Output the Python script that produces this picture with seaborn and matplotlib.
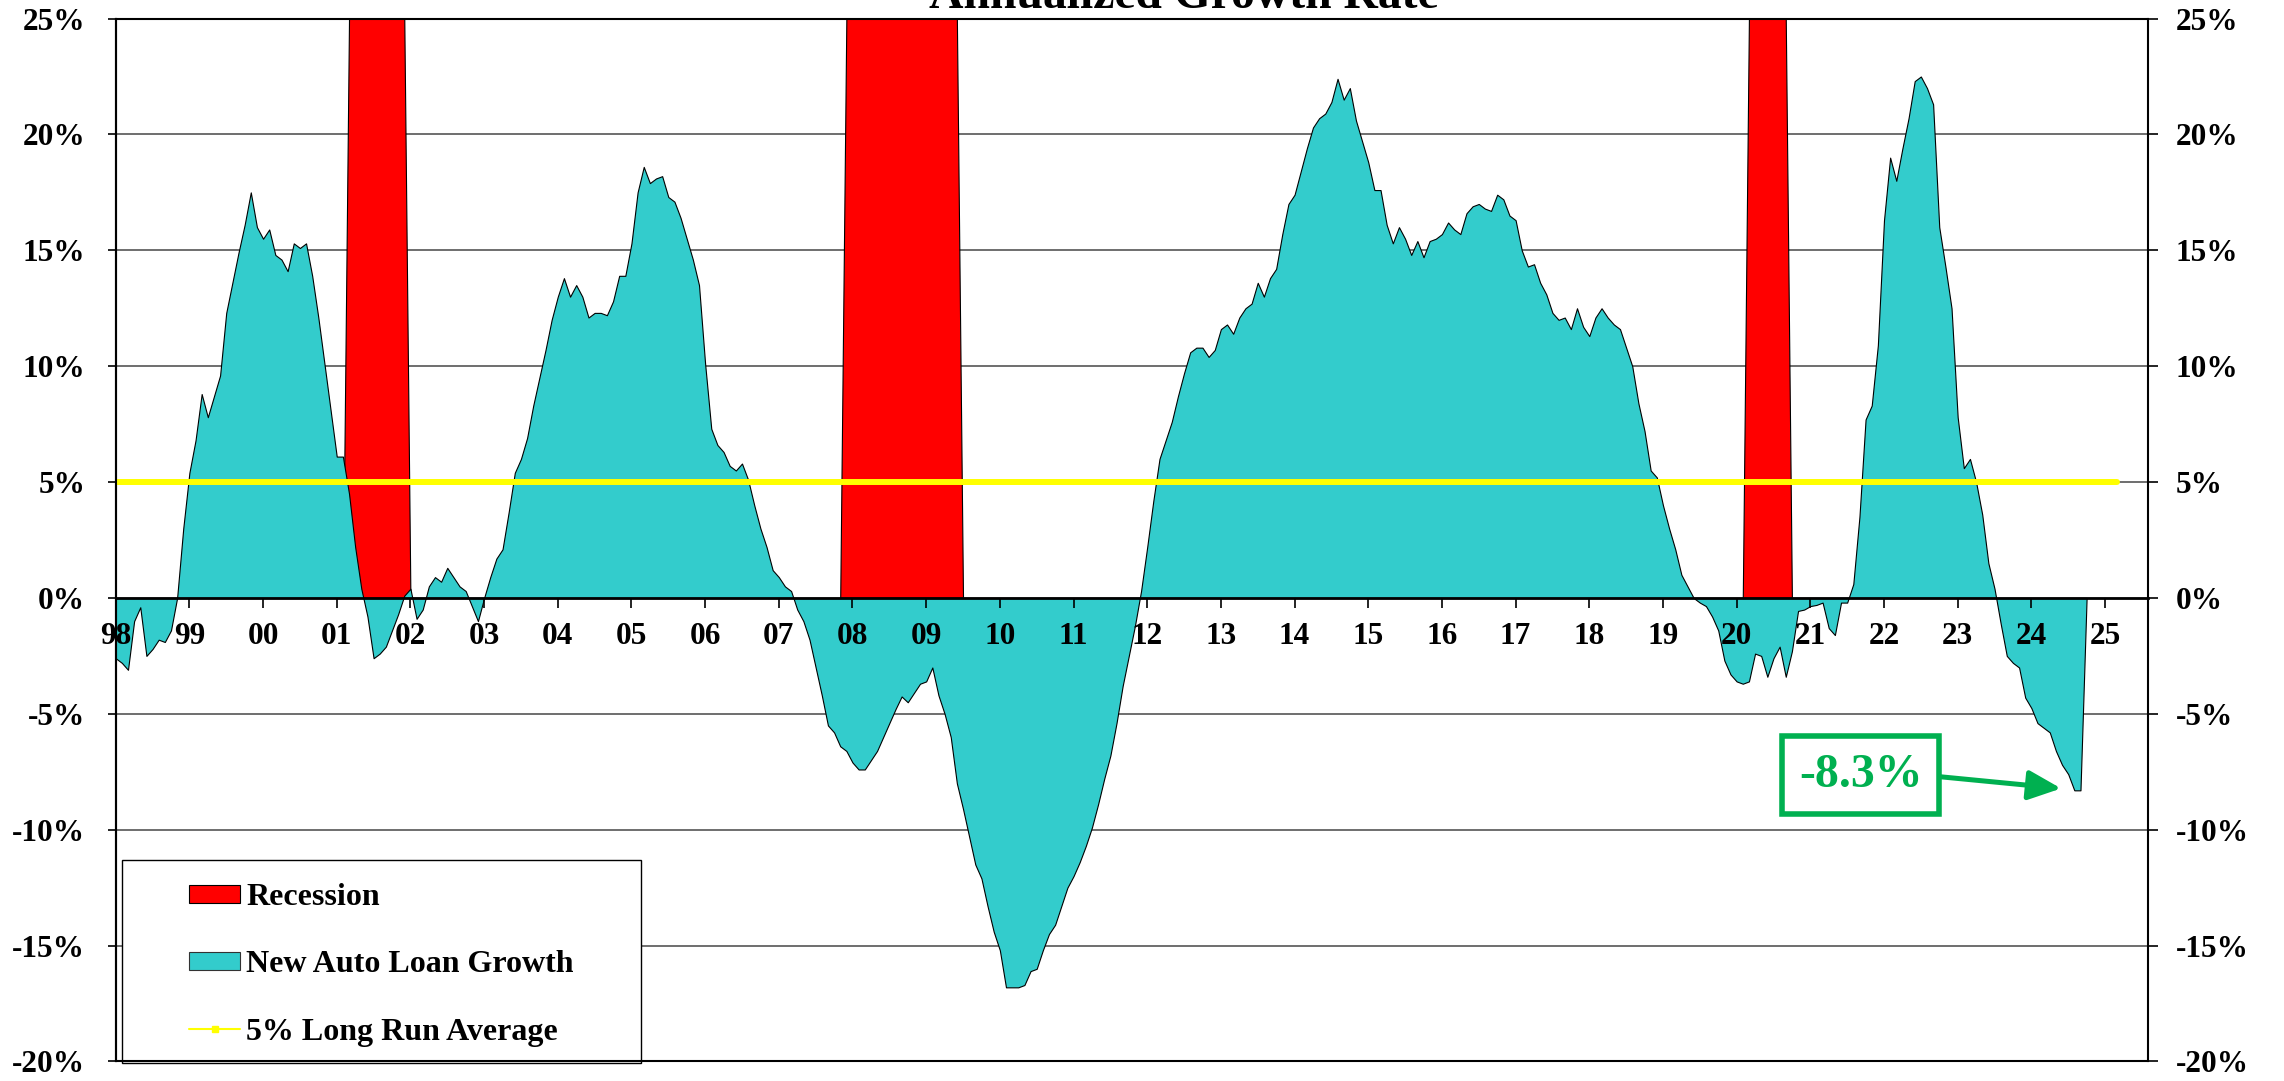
import numpy as np
import pandas as pd
import matplotlib.pyplot as plt
import seaborn as sns
from matplotlib.patches import Patch, Rectangle
from matplotlib.lines import Line2D
from matplotlib.ticker import FuncFormatter

# new auto loan growth, annualized %, monthly from Jan 1998
g1998 = [-2.6, -2.8, -3.1, -1.0, -0.4, -2.5, -2.2, -1.8, -1.9, -1.4, 0.0, 3.0]
g1999 = [5.4, 6.8, 8.8, 7.8, 8.7, 9.6, 12.3, 13.6, 14.9, 16.1, 17.5, 16.0]
g2000 = [15.5, 15.9, 14.8, 14.6, 14.1, 15.3, 15.1, 15.3, 13.9, 12.1, 10.1, 8.1]
g2001 = [6.1, 6.1, 4.5, 2.2, 0.4, -0.8, -2.6, -2.4, -2.1, -1.4, -0.7, 0.1]
g2002 = [0.4, -0.9, -0.5, 0.5, 0.9, 0.7, 1.3, 0.9, 0.5, 0.3, -0.35, -1.0]
g2003 = [0.0, 0.9, 1.7, 2.1, 3.7, 5.4, 6.0, 6.9, 8.3, 9.5, 10.7, 12.0]
g2004 = [13.0, 13.8, 13.0, 13.5, 13.0, 12.1, 12.3, 12.3, 12.2, 12.8, 13.9, 13.9]
g2005 = [15.3, 17.5, 18.6, 17.9, 18.1, 18.2, 17.3, 17.1, 16.4, 15.5, 14.6, 13.5]
g2006 = [10.1, 7.3, 6.6, 6.3, 5.7, 5.5, 5.8, 5.1, 4.0, 3.0, 2.2, 1.2]
g2007 = [0.9, 0.5, 0.3, -0.5, -1.0, -1.8, -3.0, -4.2, -5.5, -5.8, -6.4, -6.6]
g2008 = [-7.1, -7.4, -7.4, -7.0, -6.6, -6.0, -5.4, -4.8, -4.25, -4.5, -4.1, -3.7]
g2009 = [-3.6, -3.0, -4.2, -5.0, -6.0, -8.0, -9.1, -10.3, -11.5, -12.1, -13.3, -14.4]
g2010 = [-15.2, -16.8, -16.8, -16.8, -16.7, -16.1, -16.0, -15.2, -14.5, -14.1, -13.3, -12.5]
g2011 = [-12.0, -11.4, -10.7, -9.9, -8.9, -7.8, -6.8, -5.4, -3.8, -2.5, -1.2, 0.3]
g2012 = [2.2, 4.2, 6.0, 6.8, 7.6, 8.7, 9.7, 10.6, 10.8, 10.8, 10.4, 10.7]
g2013 = [11.6, 11.8, 11.4, 12.1, 12.5, 12.7, 13.6, 13.0, 13.8, 14.2, 15.7, 17.0]
g2014 = [17.4, 18.4, 19.4, 20.3, 20.7, 20.9, 21.4, 22.4, 21.5, 22.0, 20.6, 19.7]
g2015 = [18.8, 17.6, 17.6, 16.1, 15.3, 16.0, 15.5, 14.8, 15.4, 14.7, 15.4, 15.5]
g2016 = [15.7, 16.2, 15.9, 15.7, 16.6, 16.9, 17.0, 16.8, 16.7, 17.4, 17.2, 16.5]
g2017 = [16.3, 15.0, 14.3, 14.4, 13.6, 13.1, 12.3, 12.0, 12.1, 11.6, 12.5, 11.7]
g2018 = [11.3, 12.1, 12.5, 12.1, 11.8, 11.6, 10.8, 10.0, 8.4, 7.2, 5.5, 5.2]
g2019 = [4.0, 3.0, 2.1, 1.0, 0.5, 0.0, -0.2, -0.35, -0.8, -1.4, -2.7, -3.3]
g2020 = [-3.6, -3.7, -3.6, -2.4, -2.5, -3.4, -2.6, -2.1, -3.4, -2.3, -0.56, -0.5]
g2021 = [-0.35, -0.3, -0.2, -1.3, -1.6, -0.2, -0.2, 0.6, 3.5, 7.7, 8.3, 10.9]
g2022 = [16.3, 19.0, 18.0, 19.4, 20.7, 22.3, 22.5, 22.0, 21.3, 16.0, 14.3, 12.5]
g2023 = [7.8, 5.6, 6.0, 5.0, 3.6, 1.5, 0.4, -1.1, -2.5, -2.8, -3.0, -4.3]
g2024 = [-4.75, -5.4, -5.6, -5.8, -6.6, -7.2, -7.6, -8.3, -8.3]

rec_start = ['2001-03', '2007-12', '2020-03']
rec_end = ['2001-12', '2009-06', '2020-09']
rec_height = 25

long_run_avg = 5.0
avg_last = '2025-03'

year_labels = ['98', '99', '00', '01', '02', '03', '04', '05', '06', '07',
               '08', '09', '10', '11', '12', '13', '14', '15', '16', '17',
               '18', '19', '20', '21', '22', '23', '24', '25']
axis_end = '2025-08'

teal = '#33CCCC'
green = '#00B050'


def month_idx(s):
    y, m = s.split('-')
    return (int(y) - 1998) * 12 + int(m) - 1


growth = np.array(g1998 + g1999 + g2000 + g2001 + g2002 + g2003 + g2004 + g2005 +
                  g2006 + g2007 + g2008 + g2009 + g2010 + g2011 + g2012 + g2013 +
                  g2014 + g2015 + g2016 + g2017 + g2018 + g2019 + g2020 + g2021 +
                  g2022 + g2023 + g2024)
# the blank month after the last reading is drawn as zero, like the area chart does
area = np.append(growth, 0.0)
area_x = np.arange(len(area))

n_end = month_idx(axis_end)
all_x = np.arange(n_end + 1)
recession = np.zeros(len(all_x))
for a, b in zip(rec_start, rec_end):
    recession[month_idx(a):month_idx(b) + 1] = rec_height

avg_df = pd.DataFrame({'m': np.arange(month_idx(avg_last) + 1)})
avg_df['v'] = long_run_avg

sns.set_theme(style='white', rc={'text.color': 'black', 'xtick.color': 'black',
                                 'ytick.color': 'black', 'axes.edgecolor': 'black'})
plt.rcParams['font.family'] = ['Liberation Serif', 'DejaVu Serif']
plt.rcParams['font.weight'] = 'bold'

fig = plt.figure(figsize=(22.84, 10.81), dpi=100)
ax = fig.add_axes([0.05066, 0.01804, 0.8898, 0.9648])
ax.set_axisbelow(False)

# gridlines under the areas
for v in range(-15, 25, 5):
    if v != 0:
        ax.axhline(v, color='#555555', lw=1.2, zorder=0.5)

ax.fill_between(all_x, recession, 0, facecolor='#FF0000', edgecolor='black', lw=0.8, zorder=1)
ax.fill_between(area_x, area, 0, facecolor=teal, edgecolor='black', lw=0.8, zorder=1.2)
sns.lineplot(data=avg_df, x='m', y='v', color='#FFFF00', lw=4.3, ax=ax, zorder=3)

ax.set_xlim(0, n_end)
ax.set_ylim(-20, 25)
ax.set_xlabel('')
ax.set_ylabel('')

ax.spines['bottom'].set_position(('data', 0))
ax.spines['bottom'].set_linewidth(2)
ax.spines['top'].set_visible(False)
ax.spines['right'].set_visible(False)
ax.spines['left'].set_linewidth(1.5)

ax.set_xticks(np.arange(0, 12 * len(year_labels), 12))
ax.set_xticklabels(year_labels, fontsize=22.5, fontweight='bold')
ax.tick_params(axis='x', direction='out', length=7, width=1.2, pad=10, bottom=True)

yt = np.arange(-20, 26, 5)
fmt = FuncFormatter(lambda v, p: f'{v:.0f}%')
ax.set_yticks(yt)
ax.yaxis.set_major_formatter(fmt)
ax.tick_params(axis='y', direction='out', length=6, width=1.2, pad=16, labelsize=22.5, left=True)

ax2 = ax.twinx()
ax2.set_ylim(-20, 25)
ax2.set_yticks(yt)
ax2.yaxis.set_major_formatter(fmt)
ax2.tick_params(axis='y', direction='out', length=7, width=1.2, pad=13, labelsize=22.5, right=True)
for s in ax2.spines.values():
    s.set_color('black')
    s.set_linewidth(1.5)
ax2.grid(False)
ax.grid(False)

# legend with its own white box
ax.add_patch(Rectangle((122 / 2284, 18 / 1081), 519 / 2284, 203 / 1081, transform=fig.transFigure,
                       facecolor='white', edgecolor='black', lw=1, zorder=4, clip_on=False))
handles = [Patch(facecolor='#FF0000', edgecolor='black', lw=0.8),
           Patch(facecolor=teal, edgecolor='#333333', lw=0.8),
           Line2D([], [], color='#FFFF00', lw=1.5, marker='s', markersize=5)]
labels = ['Recession', 'New Auto Loan Growth', '5% Long Run Average']
leg = ax.legend(handles, labels, loc='upper left', bbox_to_anchor=(189 / 2284, 1 - 883 / 1081),
                bbox_transform=fig.transFigure, frameon=False,
                prop={'weight': 'bold', 'size': 23}, handlelength=1.6, handleheight=0.5,
                handletextpad=0.2, labelspacing=1.2, borderpad=0, borderaxespad=0)
leg.set_zorder(5)

# callout on the latest reading
last = len(growth) - 1
ax.annotate(f'{growth[last]:.1f}%', xy=(last, growth[last]), xytext=(284.2, -7.64),
            textcoords='data', ha='center', va='center', fontsize=34.5, fontweight='bold', color=green,
            bbox=dict(boxstyle='square,pad=0.35', fc='white', ec=green, lw=4),
            arrowprops=dict(arrowstyle='-|>,head_length=1.0,head_width=0.45', color=green, lw=3.6,
                            mutation_scale=20, shrinkA=0, shrinkB=14, relpos=(1, 0.5)),
            zorder=6)

fig.text(1184 / 2284, 1 - 8 / 1081, 'Annualized Growth Rate', ha='center', va='baseline',
         fontsize=34.3, fontweight='bold')

fig.savefig('out.png', dpi=100)
